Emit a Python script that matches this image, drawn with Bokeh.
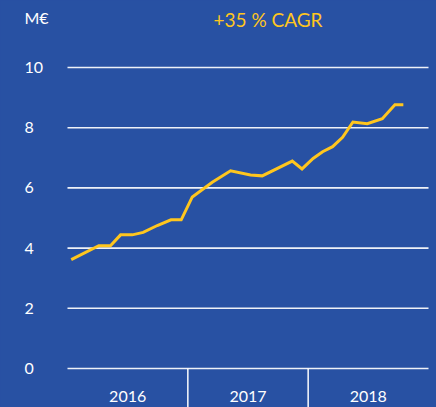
from bokeh.plotting import figure
from bokeh.models import Range1d, GlobalInlineStyleSheet
from bokeh.core.properties import value
from bokeh.embed import file_html
from bokeh.resources import INLINE

# ---- data ----
years = [2016.031, 2016.260, 2016.357, 2016.441, 2016.538, 2016.629, 2016.746,
         2016.860, 2016.945, 2017.037, 2017.203, 2017.355, 2017.521, 2017.618,
         2017.868, 2017.949, 2018.041, 2018.120, 2018.203, 2018.286, 2018.372,
         2018.491, 2018.616, 2018.721, 2018.791]
revenue = [3.62, 4.08, 4.08, 4.44, 4.44, 4.52, 4.75,
           4.94, 4.94, 5.70, 6.19, 6.57, 6.43, 6.40,
           6.89, 6.63, 6.98, 7.20, 7.37, 7.68, 8.19,
           8.13, 8.30, 8.76, 8.76]
y_ticks = [0, 2, 4, 6, 8, 10]
y_tick_labels = ["0", "2", "4", "6", "8", "10"]
unit_label = "M€"
year_labels = ["2016", "2017", "2018"]
year_centers = [2016.5, 2017.5, 2018.5]
year_bounds = [2017, 2018]
title_text = "+35 % CAGR"

BG = "#2851A3"
YELLOW = "#FFC61E"
FONT = "Lato"

W, H = 436, 407
X0, X1 = 2016, 2019          # plotted time span
PX_PER_YEAR = 361 / 3
PX_PER_UNIT = 30.1
LEFT_PAD, RIGHT_PAD, TOP_PAD, BOTTOM_PAD = 67, 8, 67, 39   # px around the grid

x_start = X0 - LEFT_PAD / PX_PER_YEAR
x_end = X1 + RIGHT_PAD / PX_PER_YEAR
y_top = 10 + TOP_PAD / PX_PER_UNIT
y_bottom = 0 - BOTTOM_PAD / PX_PER_UNIT


def sx(px):  # horizontal canvas offset -> data x
    return x_start + px / PX_PER_YEAR


def sy(py):  # vertical canvas offset -> data y
    return y_top - py / PX_PER_UNIT


p = figure(width=W, height=H, output_backend="svg", toolbar_location=None,
           x_range=Range1d(x_start, x_end), y_range=Range1d(y_bottom, y_top),
           min_border=0, background_fill_color=BG, border_fill_color=BG,
           outline_line_color=None)
p.stylesheets.append(GlobalInlineStyleSheet(css=f"body {{ background-color: {BG}; }}"))
p.axis.visible = False
p.grid.visible = False

# horizontal grid lines (only across the plotted span)
p.segment(x0=[X0] * len(y_ticks), y0=y_ticks, x1=[X1] * len(y_ticks), y1=y_ticks,
          line_color="white", line_width=1.6, line_alpha=0.92)

# separators between the years, below the zero line
p.segment(x0=year_bounds, y0=[0] * len(year_bounds), x1=year_bounds,
          y1=[y_bottom] * len(year_bounds),
          line_color="white", line_width=1.6, line_alpha=0.92)

# y tick labels, left aligned
p.text(x=[sx(24)] * len(y_ticks), y=y_ticks, text=y_tick_labels,
       text_align="left", text_baseline="middle", text_color="white",
       text_font=value(FONT), text_font_size="16px")
p.text(x=[sx(24)], y=[sy(17)], text=[unit_label],
       text_align="left", text_baseline="middle", text_color="white",
       text_font=value(FONT), text_font_size="16px")

# year labels
p.text(x=year_centers, y=[sy(396)] * len(year_centers), text=year_labels,
       text_align="center", text_baseline="middle", text_color="white",
       text_font=value(FONT), text_font_size="16px")

# revenue line
p.line(years, revenue, line_color=YELLOW, line_width=3, line_join="miter")

# title
p.text(x=[sx(267.5)], y=[sy(19)], text=[title_text], text_align="center",
       text_baseline="middle", text_color=YELLOW, text_font=value(FONT),
       text_font_size="19px")

open("out.html", "w").write(file_html(p, INLINE))
